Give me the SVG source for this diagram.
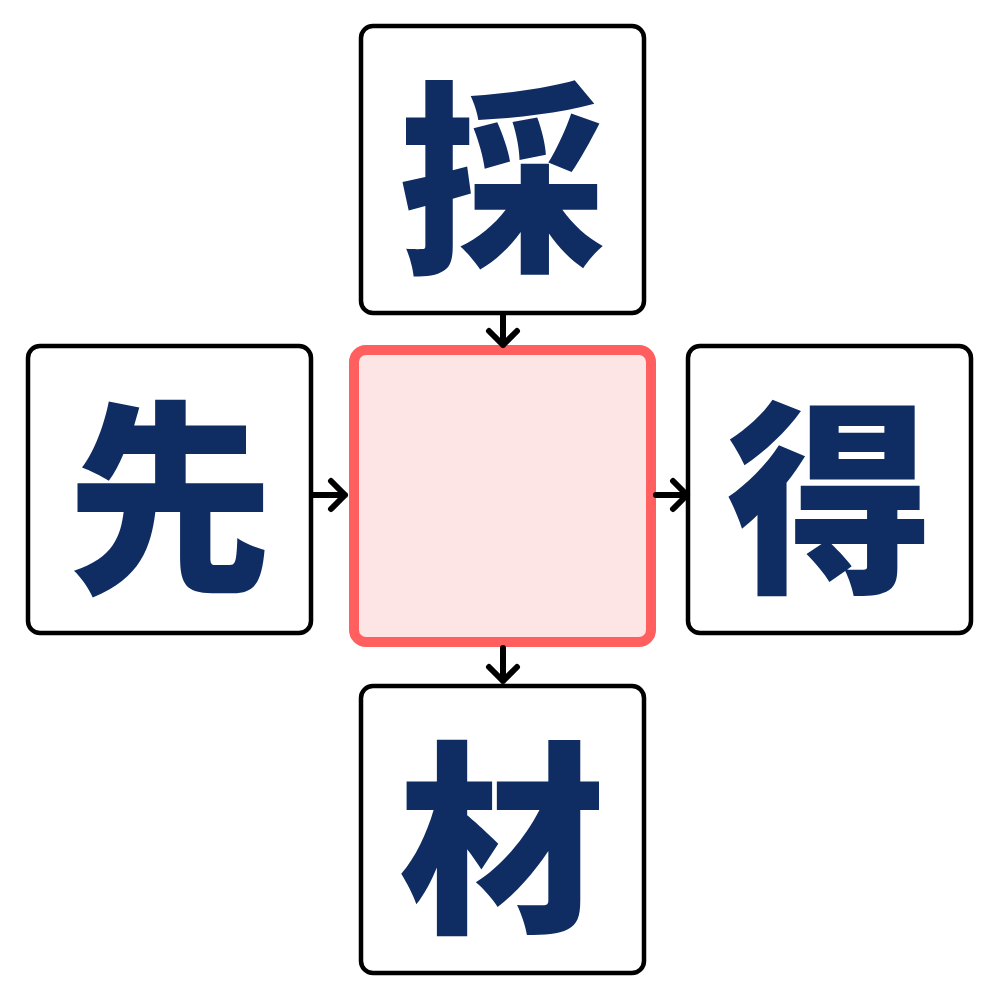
<svg xmlns="http://www.w3.org/2000/svg" width="1000" height="1000" viewBox="0 0 1000 1000">
<style>
.box{fill:#ffffff;stroke:#000000;stroke-width:4.5}
.center{fill:#fde5e5;stroke:#ff5f5f;stroke-width:10}
.kanji{font-family:"Noto Sans CJK JP","Noto Sans CJK SC",sans-serif;font-weight:900;font-size:206px;fill:#0f2d63;text-anchor:middle;dominant-baseline:central}
.arrow{fill:none;stroke:#000000;stroke-width:6;stroke-linecap:round;stroke-linejoin:round}
</style>
<rect width="1000" height="1000" fill="#ffffff"/>
<g id="node-top"><rect class="box" x="361" y="26" width="283" height="287" rx="12"/><text class="kanji" x="502" y="166">採</text></g>
<g id="node-left"><rect class="box" x="28" y="346" width="283" height="287" rx="12"/><text class="kanji" x="170" y="486">先</text></g>
<g id="node-center"><rect class="center" x="354" y="350" width="297" height="292" rx="12"/></g>
<g id="node-right"><rect class="box" x="688" y="346" width="283" height="287" rx="12"/><text class="kanji" x="830" y="486">得</text></g>
<g id="node-bottom"><rect class="box" x="361" y="686" width="283" height="287" rx="12"/><text class="kanji" x="502" y="826">材</text></g>
<g id="connectors">
<path class="arrow" d="M503 315 V345 M489 331 L503 345 L517 331"/>
<path class="arrow" d="M313 495 H345 M331 481 L345 495 L331 509"/>
<path class="arrow" d="M656 495 H687 M673 481 L687 495 L673 509"/>
<path class="arrow" d="M503 648 V681 M489 667 L503 681 L517 667"/>
</g>
</svg>
